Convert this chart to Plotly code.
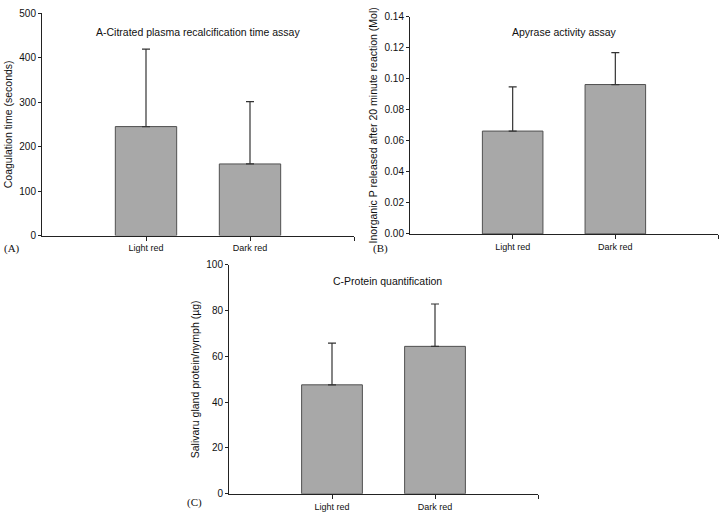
import plotly.graph_objects as go

W, H = 722, 520

categories = ["Light red", "Dark red"]

# Panel A: citrated plasma recalcification time (seconds)
coag_mean = [245, 161]
coag_err = [174, 140]

# Panel B: apyrase activity (Mol inorganic P)
apyrase_mean = [0.0663, 0.0963]
apyrase_err = [0.0285, 0.0206]

# Panel C: protein quantification (ug per nymph)
protein_mean = [47.6, 64.4]
protein_err = [18.2, 18.5]

titles = ["A-Citrated plasma recalcification time assay",
          "Apyrase activity assay",
          "C-Protein quantification"]
ytitles = ["Coagulation time (seconds)",
           "Inorganic P released after 20 minute reaction (Mol)",
           "Salivaru gland protein/nymph (\u00b5g)"]
panel_labels = ["(A)", "(B)", "(C)"]

yranges = [[0, 500], [0, 0.14], [0, 100]]
ydticks = [100, 0.02, 20]
ytickfmt = ["d", ".2f", "d"]

# pixel boxes: (x0, x1, ytop, ybottom)
boxes = [(42, 354, 7.3, 235), (410, 718, 11, 233.3), (229, 538, 265, 499.3)]

FONT = "Liberation Sans, Arial, sans-serif"
BAR = "#a8a8a8"
EDGE = "#505050"

fig = go.Figure()
means = [coag_mean, apyrase_mean, protein_mean]
errs = [coag_err, apyrase_err, protein_err]

annotations = []
layout_axes = {}
for i in range(3):
    xa = "x" if i == 0 else f"x{i+1}"
    ya = "y" if i == 0 else f"y{i+1}"
    fig.add_trace(go.Bar(
        x=[0, 1], y=means[i], width=0.59,
        marker=dict(color=BAR, line=dict(color=EDGE, width=1)),
        error_y=dict(type="data", array=errs[i], arrayminus=[0, 0], symmetric=False,
                     color="#333333", thickness=1.2, width=4),
        xaxis=xa, yaxis=ya, showlegend=False, hoverinfo="skip"))
    x0, x1, yt, yb = boxes[i]
    xkey = "xaxis" if i == 0 else f"xaxis{i+1}"
    ykey = "yaxis" if i == 0 else f"yaxis{i+1}"
    layout_axes[xkey] = dict(
        domain=[x0 / W, x1 / W], anchor=ya, range=[-1, 2],
        tickvals=[0, 1, 2], ticktext=categories + [""],
        ticks="outside", ticklen=4, tickcolor="#222", showline=True,
        linecolor="#222", linewidth=1, showgrid=False, zeroline=False,
        tickfont=dict(family=FONT, size=9, color="#111"))
    layout_axes[ykey] = dict(
        domain=[1 - yb / H, 1 - yt / H], anchor=xa, range=yranges[i],
        dtick=ydticks[i], tick0=0, tickformat=ytickfmt[i],
        ticks="outside", ticklen=3, tickcolor="#222", showline=True,
        linecolor="#222", linewidth=1, showgrid=False, zeroline=False,
        tickfont=dict(family=FONT, size=10, color="#111"),
        title=dict(text=ytitles[i], font=dict(family=FONT, size=10.5, color="#111"),
                   standoff=4))

# chart titles
title_pos = [(198, 27), (564, 27), (387.5, 281)]
for (tx, ty), t in zip(title_pos, titles):
    annotations.append(dict(text=t, x=tx / W, y=1 - ty / H, xref="paper", yref="paper",
                            showarrow=False, xanchor="center", yanchor="middle",
                            font=dict(family=FONT, size=10.5, color="#111")))
label_pos = [(2, 248), (371, 248), (185, 508)]
for (lx, ly), t in zip(label_pos, panel_labels):
    annotations.append(dict(text=t, x=lx / W, y=1 - ly / H, xref="paper", yref="paper",
                            showarrow=False, xanchor="left", yanchor="middle",
                            font=dict(family="Liberation Serif, Times New Roman, serif",
                                      size=11, color="#111")))

fig.update_layout(width=W, height=H, margin=dict(l=0, r=0, t=0, b=0),
                  paper_bgcolor="white", plot_bgcolor="white",
                  annotations=annotations, **layout_axes)

fig.write_html("out.html", config={"displayModeBar": False, "staticPlot": True},
               post_script="document.body.style.margin='0px';")
